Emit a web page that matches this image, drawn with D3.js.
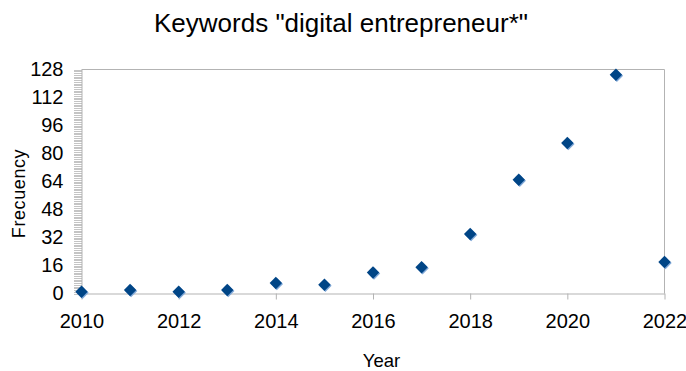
<!DOCTYPE html>
<html><head><meta charset="utf-8">
<script src="https://cdn.jsdelivr.net/npm/d3@7"></script>
<style>body{margin:0;background:#fff}svg{display:block}text{font-family:"Liberation Sans",Arial,sans-serif;fill:#000}</style>
</head><body><svg id="c" width="686" height="371"></svg>
<script>
const years = [2010,2011,2012,2013,2014,2015,2016,2017,2018,2019,2020,2021,2022];
const frequency = [1,2,1,2,6,5,12,15,34,65,86,125,18];
const yTicks = [0,16,32,48,64,80,96,112,128];
const xTicks = [2010,2012,2014,2016,2018,2020,2022];
const title = 'Keywords "digital entrepreneur*"';

const svg = d3.select("#c");
const L=81.5, R=664.5, T=69.5, B=293.5;
const x = d3.scaleLinear().domain([2010,2022]).range([L,R]);
const y = d3.scaleLinear().domain([0,128]).range([B,T]);
const grey="#b3b3b3";

// plot border top/right
svg.append("path").attr("d",`M${L},${T}H${R}V${B}`).attr("fill","none").attr("stroke",grey);

// minor y ticks
const minor = d3.range(0,129,1);
svg.append("g").attr("transform",`translate(${L},0)`)
  .call(d3.axisLeft(y).tickValues(minor).tickSize(8).tickFormat(""))
  .call(g=>{g.selectAll("line").attr("stroke","#c4c4c4").attr("shape-rendering","crispEdges");g.select(".domain").remove();});

// y axis
svg.append("g").attr("transform",`translate(${L},0)`)
  .call(d3.axisLeft(y).tickValues(yTicks).tickSize(0).tickPadding(18))
  .call(g=>{g.select(".domain").attr("stroke",grey);g.selectAll("text").style("font-size","20px").attr("fill","#000");});

// x axis
svg.append("g").attr("transform",`translate(0,${B})`)
  .call(d3.axisBottom(x).tickValues(xTicks).tickFormat(d3.format("d")).tickSizeInner(6).tickSizeOuter(0).tickPadding(14))
  .call(g=>{g.select(".domain").attr("stroke",grey);g.selectAll("line").attr("stroke",grey);g.selectAll("text").style("font-size","20px").attr("fill","#000");});

// markers
const sym = d3.symbol().type(d3.symbolDiamond2).size(98);
const pts = svg.append("g");
years.forEach((yr,i)=>{
  pts.append("path").attr("d",sym()).attr("transform",`translate(${x(yr)+1},${y(frequency[i])+1})`).attr("fill","#7fa8d8");
  pts.append("path").attr("d",sym()).attr("transform",`translate(${x(yr)},${y(frequency[i])})`).attr("fill","#004586");
});

// title
svg.append("text").attr("x",341).attr("y",32).attr("text-anchor","middle").style("font-size","26px").text(title);
// axis titles
svg.append("text").attr("x",381.5).attr("y",367).attr("text-anchor","middle").style("font-size","18.5px").text("Year");
svg.append("text").attr("transform","translate(25,193.5) rotate(-90)").attr("text-anchor","middle").style("font-size","18px").style("letter-spacing","0.6px").text("Frecuency");
</script></body></html>
